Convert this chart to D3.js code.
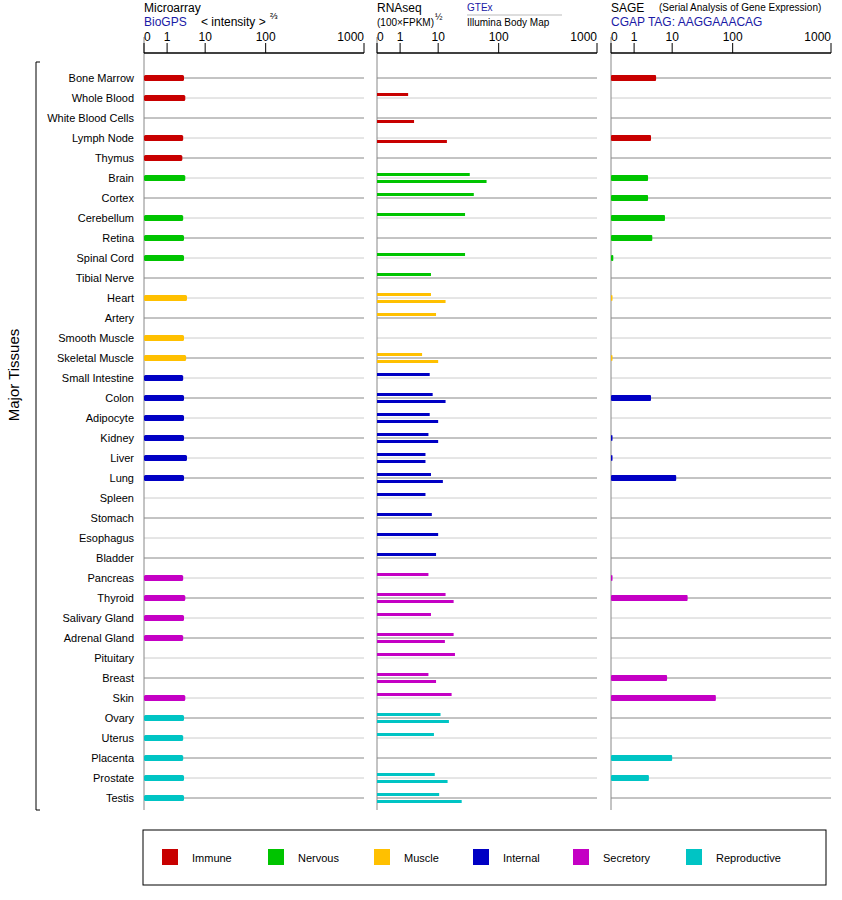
<!DOCTYPE html>
<html><head><meta charset="utf-8">
<script src="https://cdn.jsdelivr.net/npm/d3@7"></script>
<style>body{margin:0;background:#fff}text{font-family:"Liberation Sans",Arial,sans-serif}</style>
</head><body><svg id="c" width="842" height="900"></svg>
<script>
const tissues=["Bone Marrow","Whole Blood","White Blood Cells","Lymph Node","Thymus","Brain","Cortex","Cerebellum","Retina","Spinal Cord","Tibial Nerve","Heart","Artery","Smooth Muscle","Skeletal Muscle","Small Intestine","Colon","Adipocyte","Kidney","Liver","Lung","Spleen","Stomach","Esophagus","Bladder","Pancreas","Thyroid","Salivary Gland","Adrenal Gland","Pituitary","Breast","Skin","Ovary","Uterus","Placenta","Prostate","Testis"];
const groups=["Immune","Immune","Immune","Immune","Immune","Nervous","Nervous","Nervous","Nervous","Nervous","Nervous","Muscle","Muscle","Muscle","Muscle","Internal","Internal","Internal","Internal","Internal","Internal","Internal","Internal","Internal","Internal","Secretory","Secretory","Secretory","Secretory","Secretory","Secretory","Secretory","Reproductive","Reproductive","Reproductive","Reproductive","Reproductive"];
const groupNames=["Immune","Nervous","Muscle","Internal","Secretory","Reproductive"];
const groupColors=["#c80000","#00c400","#ffc000","#0000c4","#c400c4","#00c4c4"];
const microarray=[5.0,5.3,null,4.8,4.6,5.3,null,4.8,5.0,5.0,null,5.7,null,5.0,5.5,4.8,5.0,5.0,5.0,5.7,5.0,null,null,null,null,4.8,5.3,5.0,4.8,null,null,5.3,5.0,4.8,4.8,5.0,5.0];
const gtex=[null,2.9,null,null,null,57,63,50,null,50,8.3,8.3,9.5,null,6.2,8,8.7,8,7.7,7,8.3,7,8.5,10,9.5,7.7,21,8.3,33,35,7.7,30,13.5,9,null,9.2,11.5];
const illumina=[null,null,4.3,23,null,82,null,null,null,null,null,21,null,null,10,null,21,10,10,7,17,null,null,null,null,null,33,null,20,null,9.5,null,26,null,null,24,45];
const sage=[6.2,null,null,5,null,4.3,4.3,8.3,5.3,0.1,null,0.05,null,null,0.05,null,5,null,0.05,0.05,16,null,null,null,null,0.05,33,null,null,null,8.8,75,null,null,10,4.5,null];
const ticks=[0,1,10,100,1000];
const tickFrac=[0,0.105,0.278,0.553,1];

const svg=d3.select("#c");
const color=d3.scaleOrdinal(groupNames,groupColors);
const y=d3.scalePoint(tissues,[78,798]);
const panels=[{x0:144,x1:364},{x0:377,x1:597},{x0:611,x1:831}];
const xs=panels.map(p=>d3.scaleLinear(ticks,tickFrac.map(f=>p.x0+f*(p.x1-p.x0))));

// gridlines
panels.forEach((p,pi)=>{
  tissues.forEach((t,i)=>svg.append("line").attr("x1",p.x0).attr("x2",p.x1).attr("y1",y(t)).attr("y2",y(t))
    .attr("stroke",i%2==0?"#888":"#ccc").attr("stroke-width",1));
  svg.append("line").attr("x1",p.x0).attr("x2",p.x0).attr("y1",37).attr("y2",810).attr("stroke","#888");
  const ax=svg.append("g").attr("transform","translate(0,53)");
  ax.append("line").attr("x1",p.x0).attr("x2",p.x1).attr("stroke","#000").attr("stroke-width",1.5);
  ticks.forEach((t,k)=>{
    ax.append("line").attr("x1",xs[pi](t)).attr("x2",xs[pi](t)).attr("y1",0).attr("y2",-10).attr("stroke","#000");
    ax.append("text").attr("x",xs[pi](t)+(k==0?0:0)).attr("y",-12).attr("font-size",12)
      .attr("text-anchor",k==0?"start":k==4?"end":"middle").text(t);
  });
});
// labels
svg.selectAll(".tl").data(tissues).join("text").attr("x",134).attr("y",d=>y(d)+4)
  .attr("text-anchor","end").attr("font-size",11).text(d=>d);
// microarray
tissues.forEach((t,i)=>{
  if(microarray[i]!=null) svg.append("rect").attr("x",xs[0](0)).attr("y",y(t)-3).attr("width",xs[0](microarray[i])-xs[0](0)).attr("height",6).attr("rx",1.5).attr("fill",color(groups[i]));
  if(gtex[i]!=null) svg.append("rect").attr("x",xs[1](0)).attr("y",y(t)-5).attr("width",xs[1](gtex[i])-xs[1](0)).attr("height",3).attr("fill",color(groups[i]));
  if(illumina[i]!=null) svg.append("rect").attr("x",xs[1](0)).attr("y",y(t)+2).attr("width",xs[1](illumina[i])-xs[1](0)).attr("height",3).attr("fill",color(groups[i]));
  if(sage[i]!=null) svg.append("rect").attr("x",xs[2](0)).attr("y",y(t)-3).attr("width",Math.max(1.5,xs[2](sage[i])-xs[2](0))).attr("height",6).attr("rx",1).attr("fill",color(groups[i]));
});
// headers
const T=(x,yy,s,sz,c)=>svg.append("text").attr("x",x).attr("y",yy).attr("font-size",sz).attr("fill",c||"#000").text(s);
T(144,12,"Microarray",12);T(144,26,"BioGPS",12,"#1a1aa6");T(201,26,"< intensity >",12);
T(270,19,"⅔",9);
T(377,12,"RNAseq",12);T(377,26,"(100×FPKM)",10);T(435,20,"½",9);
T(467,11,"GTEx",10,"#1a1aa6");
svg.append("line").attr("x1",467).attr("x2",562).attr("y1",15).attr("y2",15).attr("stroke","#bbb");
T(467,26,"Illumina Body Map",10);
T(611,12,"SAGE",12);T(659,11,"(Serial Analysis of Gene Expression)",10);
T(611,26,"CGAP TAG: AAGGAAACAG",12,"#1a1aa6");
// bracket
svg.append("path").attr("d","M40,62H36V810H40").attr("fill","none").attr("stroke","#000");
svg.append("text").attr("transform","translate(19,375) rotate(-90)").attr("text-anchor","middle").attr("font-size",15).text("Major Tissues");
// legend
svg.append("rect").attr("x",143).attr("y",830).attr("width",683).attr("height",55).attr("fill","none").attr("stroke","#000");
const lx=[162,268,374,473,573,686];
groupNames.forEach((g,i)=>{
  svg.append("rect").attr("x",lx[i]).attr("y",849).attr("width",16).attr("height",16).attr("fill",color(g));
  T(lx[i]+30,862,g,11);
});
</script></body></html>
